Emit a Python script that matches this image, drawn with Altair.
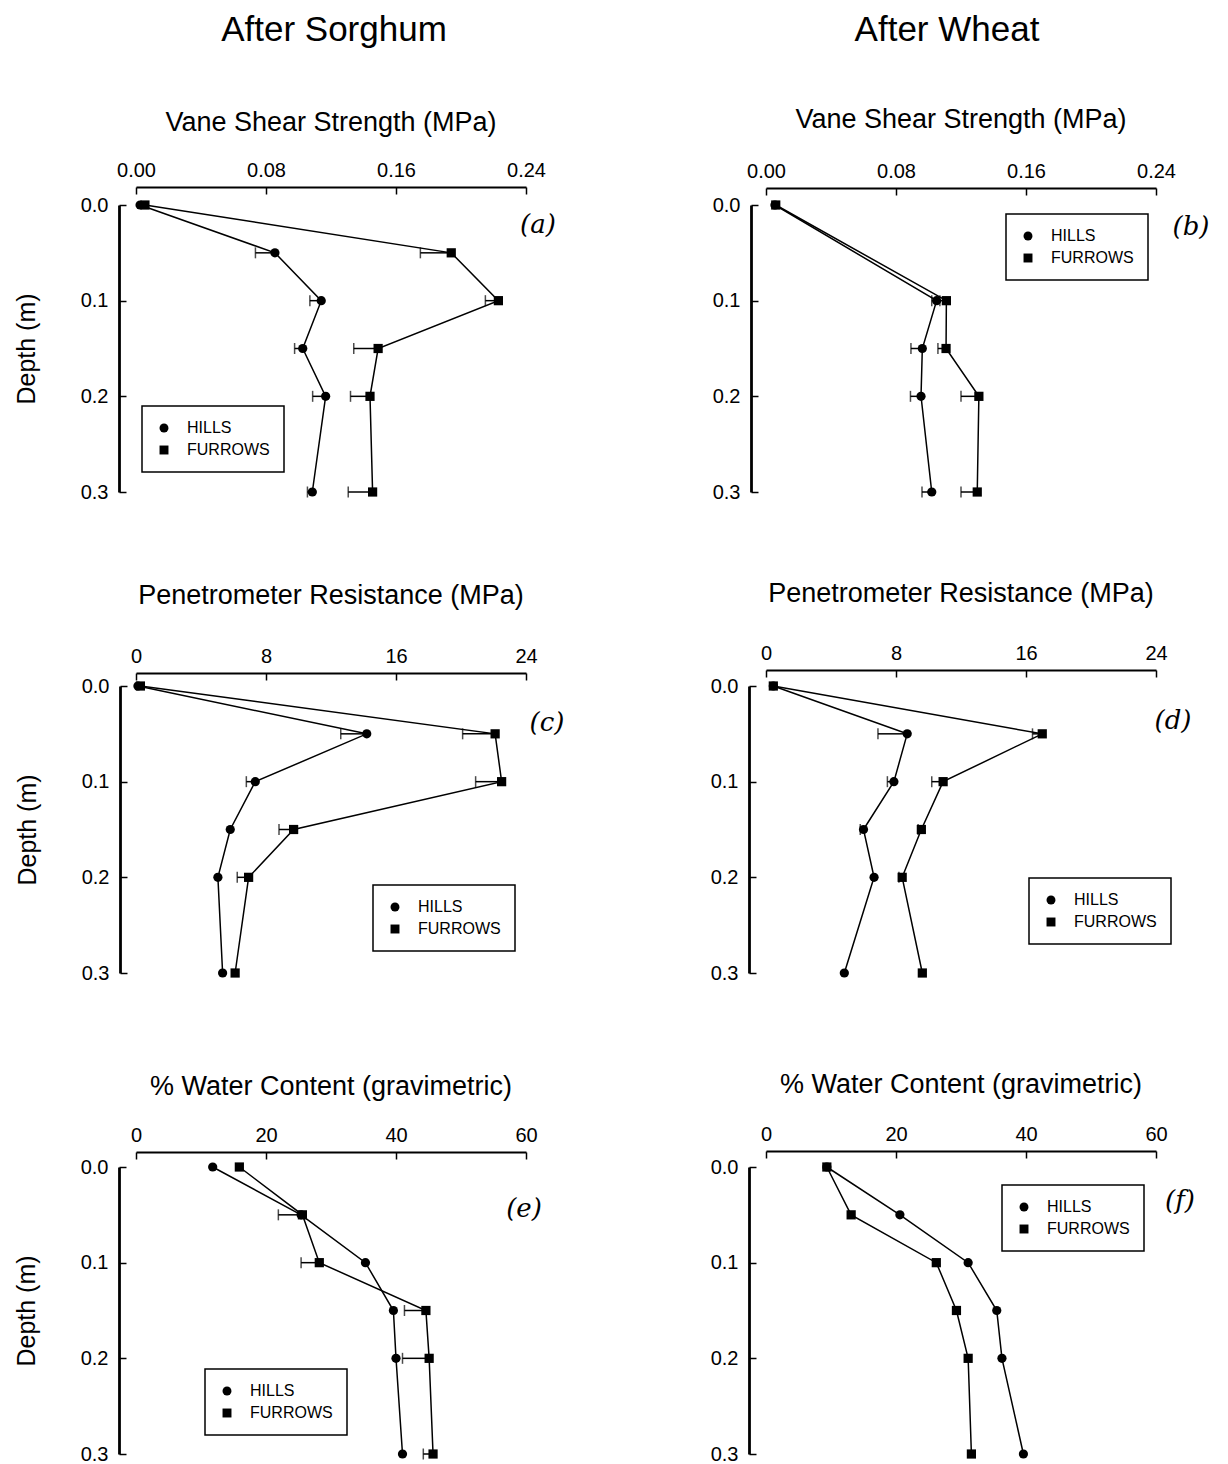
import altair as alt
import pandas as pd

FONT = "Liberation Sans"

# ---------------- data ----------------
depth6 = [0.0, 0.05, 0.1, 0.15, 0.2, 0.3]
depth5 = [0.0, 0.1, 0.15, 0.2, 0.3]

# (a) Vane shear strength, after sorghum
a_hills = [0.0025, 0.0855, 0.114, 0.1026, 0.1167, 0.1085]
a_hills_err = [0, 0.012, 0.007, 0.005, 0.008, 0.003]
a_furrows = [0.0055, 0.194, 0.223, 0.149, 0.144, 0.1456]
a_furrows_err = [0, 0.019, 0.008, 0.015, 0.012, 0.015]

# (b) Vane shear strength, after wheat
b_hills = [0.0055, 0.105, 0.0962, 0.0954, 0.102]
b_hills_err = [0, 0.003, 0.007, 0.0065, 0.006]
b_furrows = [0.006, 0.111, 0.1108, 0.131, 0.130]
b_furrows_err = [0, 0.004, 0.005, 0.011, 0.010]

# (c) Penetrometer resistance, after sorghum
c_hills = [0.12, 14.2, 7.34, 5.8, 5.04, 5.33]
c_hills_err = [0, 1.6, 0.55, 0, 0, 0]
c_furrows = [0.27, 22.1, 22.5, 9.7, 6.93, 6.1]
c_furrows_err = [0, 2.0, 1.6, 0.9, 0.7, 0]

# (d) Penetrometer resistance, after wheat
d_hills = [0.45, 8.69, 7.87, 6.0, 6.65, 4.82]
d_hills_err = [0, 1.8, 0.4, 0.2, 0, 0]
d_furrows = [0.45, 17.0, 10.9, 9.56, 8.38, 9.62]
d_furrows_err = [0, 0.6, 0.7, 0.2, 0.2, 0]

# (e) Water content, after sorghum
e_hills = [11.8, 25.4, 35.3, 39.6, 40.0, 41.0]
e_hills_err = [0, 0, 0, 0, 0, 0]
e_furrows = [15.9, 25.6, 28.2, 44.6, 45.1, 45.7]
e_furrows_err = [0, 3.7, 2.8, 3.3, 4.1, 1.5]

# (f) Water content, after wheat
f_hills = [9.36, 20.6, 31.1, 35.5, 36.3, 39.6]
f_hills_err = [0, 0, 0, 0, 0, 0]
f_furrows = [9.36, 13.1, 26.2, 29.3, 31.1, 31.6]
f_furrows_err = [0, 0, 0, 0, 0, 0]

vane_ticks = [0.0, 0.08, 0.16, 0.24]
pen_ticks = [0, 8, 16, 24]
water_ticks = [0, 20, 40, 60]
depth_ticks = [0.0, 0.1, 0.2, 0.3]

W, H = 390, 287


def panel(title, depths, hills, hills_err, furrows, furrows_err, xmax, xticks,
          xfmt, letter, letter_pos, legend_pos, ytitle, x_off, y_off, title_off,
          heading=None, heading_x=195, title_y=-82):
    rows = []
    for s, vals, errs in (("HILLS", hills, hills_err), ("FURROWS", furrows, furrows_err)):
        for d, v, e in zip(depths, vals, errs):
            rows.append({"series": s, "depth": d, "value": v, "lo": v - e, "err": e})
    df = pd.DataFrame(rows)

    xscale = alt.Scale(domain=[0, xmax], nice=False, zero=False)
    yscale = alt.Scale(domain=[0, 0.3], reverse=True, nice=False, zero=False)
    xaxis = alt.Axis(orient="top", values=xticks, format=xfmt, offset=x_off,
                     title=None, grid=False, domainWidth=2.2, domainColor="black",
                     tickColor="black", tickWidth=1.5, tickSize={"expr": "-7"},
                     labelPadding=14, labelFontSize=20, labelFont=FONT,
                     labelColor="black", labelFlush=False)
    yaxis_kw = dict(orient="left", values=depth_ticks, format=".1f", offset=y_off,
                    grid=False, domainWidth=2.8, domainColor="black",
                    tickColor="black", tickWidth=1.5, tickSize={"expr": "-7"},
                    labelPadding=18, labelFontSize=20, labelFont=FONT,
                    labelColor="black", labelFlush=False)
    if ytitle:
        yaxis = alt.Axis(title="Depth (m)", titleFont=FONT, titleFontSize=25,
                         titleFontWeight="normal", titleColor="black",
                         titlePadding=41, **yaxis_kw)
    else:
        yaxis = alt.Axis(title=None, **yaxis_kw)

    X = alt.X("value:Q", scale=xscale, axis=xaxis)
    Y = alt.Y("depth:Q", scale=yscale, axis=yaxis)

    base = alt.Chart(df)
    lines = base.mark_line(color="black", strokeWidth=1.5).encode(
        x=X, y=Y, detail="series:N", order="depth:Q")
    err = base.transform_filter("datum.err > 0")
    rules = err.mark_rule(color="black", strokeWidth=1.5).encode(
        x="lo:Q", x2="value:Q", y="depth:Q")
    caps = err.mark_tick(color="black", orient="vertical", size=11, thickness=1.5).encode(
        x="lo:Q", y="depth:Q")
    points = base.mark_point(filled=True, opacity=1, color="black", size=85).encode(
        x="value:Q", y="depth:Q",
        shape=alt.Shape("series:N",
                        scale=alt.Scale(domain=["HILLS", "FURROWS"], range=["circle", "square"]),
                        legend=alt.Legend(title=None, orient="none",
                                          legendX=legend_pos[0], legendY=legend_pos[1],
                                          strokeColor="black",
                                          fillColor="white", padding=14,
                                          labelFont=FONT, labelFontSize=16,
                                          labelColor="black", labelOffset=15,
                                          rowPadding=6, symbolSize=80,
                                          symbolFillColor="black",
                                          symbolStrokeColor="black")))
    lab = alt.Chart(pd.DataFrame({"t": [letter]})).mark_text(
        font="DejaVu Serif", fontStyle="italic", fontSize=26, color="black").encode(
        x=alt.value(letter_pos[0]), y=alt.value(letter_pos[1]), text="t:N")
    layers = [lines, rules, caps, points, lab]
    props = dict(width=W, height=H)
    if heading:
        head = alt.Chart(pd.DataFrame({"t": [heading]})).mark_text(
            font=FONT, fontSize=35, color="black", baseline="middle").encode(
            x=alt.value(heading_x), y=alt.value(-175), text="t:N")
        ttl = alt.Chart(pd.DataFrame({"t": [title]})).mark_text(
            font=FONT, fontSize=27, color="black", baseline="middle").encode(
            x=alt.value(W / 2), y=alt.value(title_y), text="t:N")
        layers += [head, ttl]
    else:
        props["title"] = alt.TitleParams(title, font=FONT, fontSize=27, fontWeight="normal",
                                         color="black", anchor="middle", offset=title_off)

    return alt.layer(*layers).properties(**props)


pa = panel("Vane Shear Strength (MPa)", depth6, a_hills, a_hills_err, a_furrows, a_furrows_err,
           0.24, vane_ticks, ".2f", "(a)", (402, 20), (6, 201), True, 18, 17, 21,
           heading="After Sorghum", heading_x=198, title_y=-82)
pb = panel("Vane Shear Strength (MPa)", depth5, b_hills, b_hills_err, b_furrows, b_furrows_err,
           0.24, vane_ticks, ".2f", "(b)", (425, 22), (240, 9), False, 17, 15, 23,
           heading="After Wheat", heading_x=181, title_y=-85)
pc = panel("Penetrometer Resistance  (MPa)", depth6, c_hills, c_hills_err, c_furrows, c_furrows_err,
           24, pen_ticks, "d", "(c)", (411, 37), (237, 199), True, 13, 16, 36)
pd_ = panel("Penetrometer Resistance  (MPa)", depth6, d_hills, d_hills_err, d_furrows, d_furrows_err,
            24, pen_ticks, "d", "(d)", (407, 35), (263, 192), False, 16, 17, 35)
pe = panel("% Water Content (gravimetric)", depth6, e_hills, e_hills_err, e_furrows, e_furrows_err,
           60, water_ticks, "d", "(e)", (388, 42), (69, 202), True, 15, 17, 24)
pf = panel("% Water Content (gravimetric)", depth6, f_hills, f_hills_err, f_furrows, f_furrows_err,
           60, water_ticks, "d", "(f)", (414, 34), (236, 18), False, 16, 17, 25)

chart = alt.concat(pa, pb, pc, pd_, pe, pf, columns=2,
                   spacing={"row": 194, "column": 240}, bounds="flush").resolve_scale(
    x="independent", shape="independent").resolve_legend(shape="independent").properties(
    padding={"left": 6, "top": 5, "right": 4, "bottom": 2},
    background="white").configure_view(stroke=None).configure_legend(strokeWidth=1.5)

chart.save("out.html", embed_options={"renderer": "svg", "actions": False})
